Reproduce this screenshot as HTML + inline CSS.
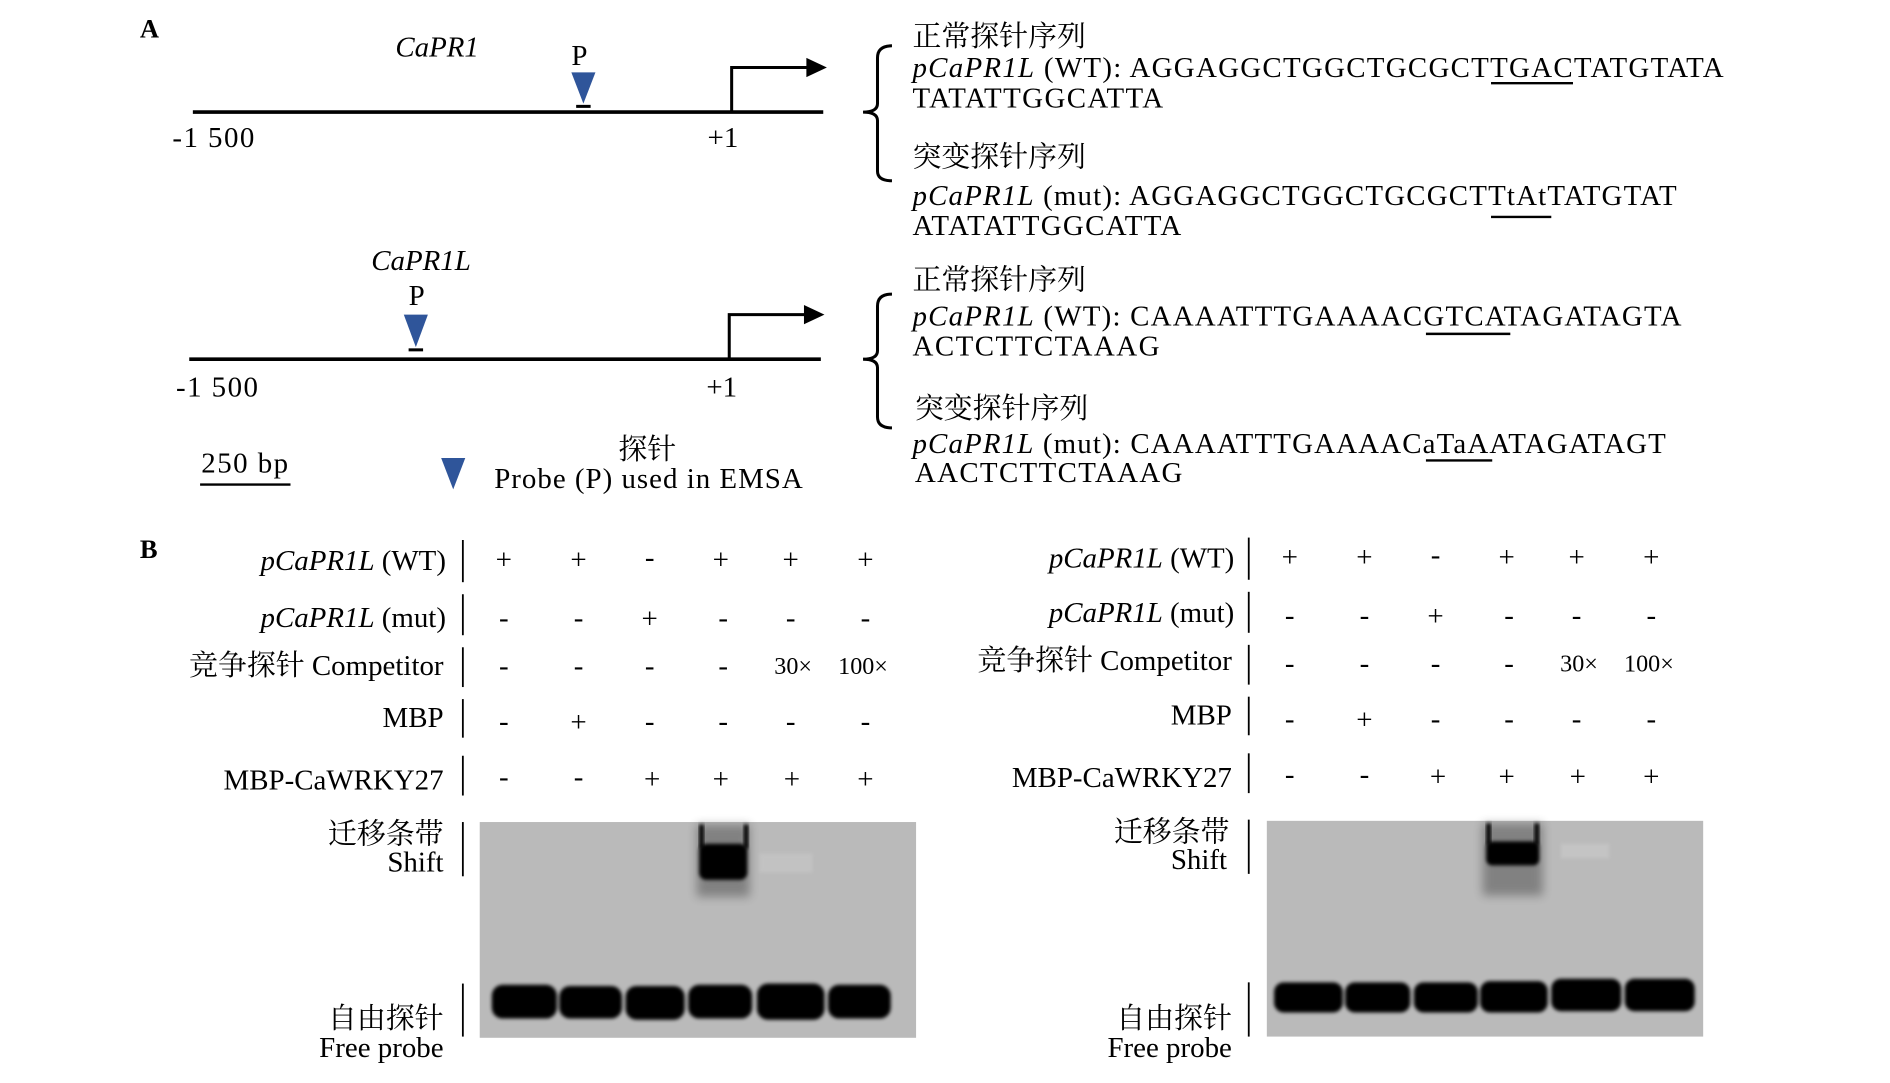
<!DOCTYPE html>
<html><head><meta charset="utf-8"><style>
html,body{margin:0;padding:0;background:#fff;}
svg{display:block;}
text{font-family:"Liberation Serif","Noto Serif CJK SC","Noto Sans CJK SC",serif;fill:#000;}
.it{font-style:italic;}
</style></head><body>
<svg width="1890" height="1083" viewBox="0 0 1568 898.5" preserveAspectRatio="none" xmlns="http://www.w3.org/2000/svg">
<defs>
<filter id="bl" x="-20%" y="-50%" width="140%" height="200%"><feGaussianBlur stdDeviation="1.5"/></filter>
<filter id="bl2" x="-20%" y="-50%" width="140%" height="200%"><feGaussianBlur stdDeviation="4"/></filter>
</defs>
<g font-size="24">
<text x="116" y="31" font-weight="bold" font-size="22">A</text>
<text x="328" y="47" class="it">CaPR1</text>
<text x="474" y="54">P</text>
<polygon points="474,60 494,60 484,86" fill="#2f559a"/>
<rect x="478" y="87" width="12" height="2.5" fill="#000"/>
<line x1="160" y1="93" x2="683" y2="93" stroke="#000" stroke-width="3"/>
<polyline points="607,93 607,56 672,56" fill="none" stroke="#000" stroke-width="2.5"/>
<polygon points="669,48 686,56 669,64" fill="#000"/>
<text x="143" y="122" textLength="68">-1 500</text>
<text x="587" y="122">+1</text>
<path d="M740,38 Q728,38 728,48 L728,86 Q728,93 716,93 Q728,93 728,100 L728,142 Q728,150 740,150" fill="none" stroke="#000" stroke-width="2.5"/>

<text x="308" y="224" class="it">CaPR1L</text>
<text x="339" y="253">P</text>
<polygon points="335,261 355,261 345,288" fill="#2f559a"/>
<rect x="339" y="289" width="12" height="2.5" fill="#000"/>
<line x1="157" y1="298" x2="681" y2="298" stroke="#000" stroke-width="3"/>
<polyline points="605,298 605,261 670,261" fill="none" stroke="#000" stroke-width="2.5"/>
<polygon points="667,253 684,261 667,269" fill="#000"/>
<text x="146" y="329" textLength="68">-1 500</text>
<text x="586" y="329">+1</text>
<path d="M740,244 Q728,244 728,254 L728,291 Q728,298 716,298 Q728,298 728,305 L728,346 Q728,355 740,355" fill="none" stroke="#000" stroke-width="2.5"/>

<text x="167" y="392" textLength="72">250 bp</text>
<line x1="166" y1="402" x2="241" y2="402" stroke="#000" stroke-width="2"/>
<polygon points="366,380 386,380 376,406" fill="#2f559a"/>
<text x="513" y="381">探针</text>
<text x="410" y="405" textLength="256">Probe (P) used in EMSA</text>

<text x="757" y="38">正常探针序列</text>
<text x="757" y="64" textLength="673"><tspan class="it">pCaPR1L</tspan> (WT): AGGAGGCTGGCTGCGCTTGACTATGTATA</text>
<text x="757" y="89" textLength="208">TATATTGGCATTA</text>
<line x1="1237" y1="69" x2="1305" y2="69" stroke="#000" stroke-width="2"/>
<text x="757" y="138">突变探针序列</text>
<text x="757" y="170" textLength="634"><tspan class="it">pCaPR1L</tspan> (mut): AGGAGGCTGGCTGCGCTTtAtTATGTAT</text>
<text x="757" y="195" textLength="223">ATATATTGGCATTA</text>
<line x1="1237" y1="180" x2="1287" y2="180" stroke="#000" stroke-width="2"/>
<text x="757" y="240">正常探针序列</text>
<text x="757" y="270" textLength="638"><tspan class="it">pCaPR1L</tspan> (WT): CAAAATTTGAAAACGTCATAGATAGTA</text>
<text x="757" y="295" textLength="205">ACTCTTCTAAAG</text>
<line x1="1183" y1="277" x2="1253" y2="277" stroke="#000" stroke-width="2"/>
<text x="759" y="347">突变探针序列</text>
<text x="757" y="376" textLength="625"><tspan class="it">pCaPR1L</tspan> (mut): CAAAATTTGAAAACaTaAATAGATAGT</text>
<text x="759" y="400" textLength="222">AACTCTTCTAAAG</text>
<line x1="1183" y1="382" x2="1238" y2="382" stroke="#000" stroke-width="2"/>

<text x="116" y="463" font-weight="bold" font-size="22">B</text>
</g>

<g font-size="24">
<g text-anchor="end">
<text x="370" y="473"><tspan class="it">pCaPR1L</tspan> (WT)</text>
<text x="370" y="520"><tspan class="it">pCaPR1L</tspan> (mut)</text>
<text x="368" y="560">竞争探针 Competitor</text>
<text x="368" y="603">MBP</text>
<text x="368" y="655">MBP-CaWRKY27</text>
<text x="368" y="700">迁移条带</text>
<text x="368" y="723">Shift</text>
<text x="368" y="853">自由探针</text>
<text x="368" y="877">Free probe</text>
</g>
<g stroke="#000" stroke-width="1.5">
<line x1="384" y1="448" x2="384" y2="483"/><line x1="384" y1="493" x2="384" y2="527"/>
<line x1="384" y1="537" x2="384" y2="570"/><line x1="384" y1="580" x2="384" y2="612"/>
<line x1="384" y1="627" x2="384" y2="660"/><line x1="384" y1="682" x2="384" y2="727"/>
<line x1="384" y1="816" x2="384" y2="860"/>
</g>
<g text-anchor="middle">
<text x="418" y="472">+</text><text x="480" y="472">+</text><text x="539" y="470">-</text><text x="598" y="472">+</text><text x="656" y="472">+</text><text x="718" y="472">+</text>
<text x="418" y="520">-</text><text x="480" y="520">-</text><text x="539" y="521">+</text><text x="600" y="520">-</text><text x="656" y="520">-</text><text x="718" y="520">-</text>
<text x="418" y="560">-</text><text x="480" y="560">-</text><text x="539" y="560">-</text><text x="600" y="560">-</text>
<text x="658" y="559" font-size="20">30×</text><text x="716" y="559" font-size="20">100×</text>
<text x="418" y="606">-</text><text x="480" y="607">+</text><text x="539" y="606">-</text><text x="600" y="606">-</text><text x="656" y="606">-</text><text x="718" y="606">-</text>
<text x="418" y="652">-</text><text x="480" y="652">-</text><text x="541" y="654">+</text><text x="598" y="654">+</text><text x="657" y="654">+</text><text x="718" y="654">+</text>
</g>
<rect x="398" y="682" width="362" height="179" fill="#bababa"/>
<rect x="578" y="684" width="44" height="60" fill="#000" opacity="0.3" filter="url(#bl2)"/>
<rect x="580" y="700" width="40" height="30" rx="6" fill="#000" filter="url(#bl)"/>
<rect x="580" y="684" width="4" height="20" fill="#000" filter="url(#bl)"/>
<rect x="617" y="684" width="4" height="20" fill="#000" filter="url(#bl)"/>
<rect x="630" y="708" width="44" height="16" fill="#fff" opacity="0.12" filter="url(#bl)"/>
<g fill="#000" filter="url(#bl)">
<rect x="408" y="817" width="54" height="28" rx="9"/>
<rect x="464" y="818" width="52" height="27" rx="9"/>
<rect x="519" y="818" width="49" height="28" rx="9"/>
<rect x="571" y="817" width="53" height="28" rx="9"/>
<rect x="628" y="816" width="56" height="30" rx="9"/>
<rect x="687" y="817" width="52" height="28" rx="9"/>
</g>

<g text-anchor="end">
<text x="1024" y="471"><tspan class="it">pCaPR1L</tspan> (WT)</text>
<text x="1024" y="516"><tspan class="it">pCaPR1L</tspan> (mut)</text>
<text x="1022" y="556">竞争探针 Competitor</text>
<text x="1022" y="601">MBP</text>
<text x="1022" y="653">MBP-CaWRKY27</text>
<text x="1020" y="698">迁移条带</text>
<text x="1018" y="721">Shift</text>
<text x="1022" y="853">自由探针</text>
<text x="1022" y="877">Free probe</text>
</g>
<g stroke="#000" stroke-width="1.5">
<line x1="1036" y1="446" x2="1036" y2="481"/><line x1="1036" y1="491" x2="1036" y2="525"/>
<line x1="1036" y1="535" x2="1036" y2="568"/><line x1="1036" y1="578" x2="1036" y2="610"/>
<line x1="1036" y1="625" x2="1036" y2="658"/><line x1="1036" y1="680" x2="1036" y2="725"/>
<line x1="1036" y1="815" x2="1036" y2="860"/>
</g>
<g text-anchor="middle">
<text x="1070" y="470">+</text><text x="1132" y="470">+</text><text x="1191" y="468">-</text><text x="1250" y="470">+</text><text x="1308" y="470">+</text><text x="1370" y="470">+</text>
<text x="1070" y="518">-</text><text x="1132" y="518">-</text><text x="1191" y="519">+</text><text x="1252" y="518">-</text><text x="1308" y="518">-</text><text x="1370" y="518">-</text>
<text x="1070" y="558">-</text><text x="1132" y="558">-</text><text x="1191" y="558">-</text><text x="1252" y="558">-</text>
<text x="1310" y="557" font-size="20">30×</text><text x="1368" y="557" font-size="20">100×</text>
<text x="1070" y="604">-</text><text x="1132" y="605">+</text><text x="1191" y="604">-</text><text x="1252" y="604">-</text><text x="1308" y="604">-</text><text x="1370" y="604">-</text>
<text x="1070" y="650">-</text><text x="1132" y="650">-</text><text x="1193" y="652">+</text><text x="1250" y="652">+</text><text x="1309" y="652">+</text><text x="1370" y="652">+</text>
</g>
<rect x="1051" y="681" width="362" height="179" fill="#bababa"/>
<rect x="1230" y="683" width="50" height="60" fill="#000" opacity="0.3" filter="url(#bl2)"/>
<rect x="1233" y="698" width="44" height="20" rx="5" fill="#000" filter="url(#bl)"/>
<rect x="1233" y="683" width="4" height="18" fill="#000" filter="url(#bl)"/>
<rect x="1273" y="683" width="4" height="18" fill="#000" filter="url(#bl)"/>
<rect x="1295" y="700" width="40" height="12" fill="#fff" opacity="0.15" filter="url(#bl)"/>
<g fill="#000" filter="url(#bl)">
<rect x="1057" y="815" width="57" height="25" rx="8"/>
<rect x="1116" y="815" width="54" height="25" rx="8"/>
<rect x="1173" y="815" width="53" height="25" rx="8"/>
<rect x="1228" y="814" width="56" height="26" rx="8"/>
<rect x="1287" y="812" width="58" height="27" rx="8"/>
<rect x="1348" y="812" width="58" height="27" rx="8"/>
</g>
</g>
</svg>
</body></html>
